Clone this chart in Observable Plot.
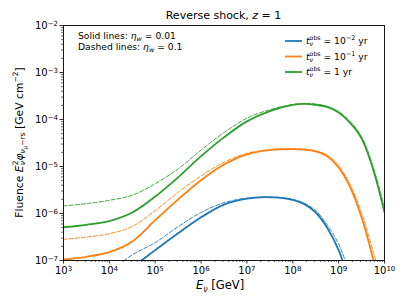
<!DOCTYPE html>
<html><head><meta charset="utf-8">
<script src="https://cdn.jsdelivr.net/npm/d3@7"></script>
<script src="https://cdn.jsdelivr.net/npm/@observablehq/plot@0.6"></script>
<style>body{margin:0;background:#fff}svg{display:block}</style>
</head><body><div id="chart"></div>
<script>
// ---- data (E in GeV, fluence in GeV cm^-2) ----
const seriesNames = ["1e-2 yr", "1e-1 yr", "1 yr"];
const seriesColors = ["#1f77b4", "#ff7f0e", "#2ca02c"];

const greenSolidE = [1e3, 3.16e3, 1e4, 3.16e4, 1e5, 3.16e5, 1e6, 3.16e6, 1e7, 3.16e7, 1e8, 1.78e8, 3.16e8, 5.62e8, 1e9, 1.78e9, 3.16e9, 5.62e9, 1e10];
const greenSolidF = [5.1e-7, 5.75e-7, 6.9e-7, 1.05e-6, 2.29e-6, 5.89e-6, 1.66e-5, 4.17e-5, 9.12e-5, 1.51e-4, 2.04e-4, 2.14e-4, 2.04e-4, 1.86e-4, 1.41e-4, 8.5e-5, 3.98e-5, 8.9e-6, 1.05e-6];
const greenDashE = [1e3, 3.16e3, 1e4, 3.16e4, 1e5, 3.16e5, 1e6, 3.16e6, 1e7, 3.16e7, 1e8, 1.78e8, 3.16e8, 5.62e8, 1e9, 1.78e9, 3.16e9, 5.62e9, 1e10];
const greenDashF = [1.45e-6, 1.62e-6, 1.91e-6, 2.45e-6, 4.3e-6, 8.9e-6, 2.24e-5, 5.25e-5, 1.07e-4, 1.62e-4, 2.09e-4, 2.19e-4, 2.14e-4, 1.91e-4, 1.48e-4, 9.1e-5, 4.37e-5, 1.0e-5, 1.32e-6];

const orangeSolidE = [1e3, 3.16e3, 1e4, 3.16e4, 1e5, 3.16e5, 1e6, 3.16e6, 1e7, 3.16e7, 1e8, 1.78e8, 3.16e8, 5.62e8, 1e9, 1.78e9, 3.16e9, 5.62e9, 8e9];
const orangeSolidF = [1.05e-7, 1.2e-7, 1.51e-7, 2.55e-7, 7.2e-7, 2.0e-6, 5.1e-6, 1.1e-5, 1.82e-5, 2.24e-5, 2.34e-5, 2.29e-5, 2.09e-5, 1.66e-5, 9.5e-6, 3.63e-6, 8.3e-7, 1.1e-7, 2.5e-8];
const orangeDashE = [1e3, 3.16e3, 1e4, 3.16e4, 1e5, 3.16e5, 1e6, 3.16e6, 1e7, 3.16e7, 1e8, 1.78e8, 3.16e8, 5.62e8, 1e9, 1.78e9, 3.16e9, 5.62e9, 8e9];
const orangeDashF = [2.82e-7, 3.16e-7, 3.72e-7, 5.3e-7, 1.15e-6, 2.82e-6, 6.3e-6, 1.23e-5, 1.91e-5, 2.29e-5, 2.4e-5, 2.34e-5, 2.14e-5, 1.74e-5, 1.05e-5, 4.17e-6, 1.05e-6, 1.6e-7, 5e-8];

const blueSolidE = [3.16e4, 1e5, 3.16e5, 1e6, 3.16e6, 1e7, 2.5e7, 5.62e7, 1e8, 1.78e8, 3.16e8, 5.62e8, 1e9, 1.78e9];
const blueSolidF = [7.1e-8, 1.66e-7, 3.8e-7, 8.3e-7, 1.55e-6, 2.07e-6, 2.24e-6, 2.14e-6, 1.95e-6, 1.58e-6, 1.05e-6, 5.0e-7, 1.66e-7, 3.2e-8];
const blueDashE = [1e4, 3.16e4, 1e5, 3.16e5, 1e6, 3.16e6, 1e7, 2.5e7, 5.62e7, 1e8, 1.78e8, 3.16e8, 5.62e8, 1e9, 1.78e9];
const blueDashF = [5.6e-8, 1.32e-7, 2.4e-7, 5.25e-7, 1.05e-6, 1.7e-6, 2.12e-6, 2.24e-6, 2.19e-6, 2.0e-6, 1.66e-6, 1.15e-6, 5.75e-7, 2.24e-7, 5e-8];

const xMajor = [1e3, 1e4, 1e5, 1e6, 1e7, 1e8, 1e9, 1e10];
const yMajor = [1e-7, 1e-6, 1e-5, 1e-4, 1e-3, 1e-2];
const xMinor = d3.range(3, 10).flatMap(p => d3.range(2, 10).map(k => k * 10 ** p));
const yMinor = d3.range(-7, -2).flatMap(p => d3.range(2, 10).map(k => k * 10 ** p));

// ---- assemble rows ----
const rows = [];
function add(E, F, series, style) { E.forEach((e, i) => rows.push({E: e, F: F[i], series, style})); }
add(blueSolidE, blueSolidF, seriesNames[0], "solid");
add(orangeSolidE, orangeSolidF, seriesNames[1], "solid");
add(greenSolidE, greenSolidF, seriesNames[2], "solid");
add(blueDashE, blueDashF, seriesNames[0], "dashed");
add(orangeDashE, orangeDashF, seriesNames[1], "dashed");
add(greenDashE, greenDashF, seriesNames[2], "dashed");

const powFmt = d => "10^" + String(Math.round(Math.log10(d))).replace("-", "\u2212");

const chart = Plot.plot({
  width: 407, height: 305,
  marginLeft: 63, marginRight: 23, marginTop: 25, marginBottom: 45,
  style: {fontFamily: "DejaVu Sans", fontSize: "10px", background: "#fff", color: "#000"},
  x: {type: "log", domain: [1e3, 1e10]},
  y: {type: "log", domain: [1e-7, 1e-2]},
  color: {domain: seriesNames, range: seriesColors},
  marks: [
    Plot.line(rows.filter(d => d.style === "solid"), {x: "E", y: "F", z: "series", stroke: "series", strokeWidth: 1.8, curve: "catmull-rom", clip: true}),
    Plot.line(rows.filter(d => d.style === "dashed"), {x: "E", y: "F", z: "series", stroke: "series", strokeWidth: 0.9, strokeDasharray: "4,2", curve: "catmull-rom", clip: true}),
    Plot.frame({stroke: "#000", strokeWidth: 0.9}),
    Plot.axisX({ticks: xMajor, tickFormat: powFmt, tickSize: 3.5, tickPadding: 3, label: null, strokeWidth: 0.8}),
    Plot.axisX({ticks: xMinor, tickFormat: () => "", tickSize: 2, label: null, strokeWidth: 0.6}),
    Plot.axisY({ticks: yMajor, tickFormat: powFmt, tickSize: 3.5, tickPadding: 2, label: null, strokeWidth: 0.8}),
    Plot.axisY({ticks: yMinor, tickFormat: () => "", tickSize: 2, label: null, strokeWidth: 0.6})
  ]
});
document.getElementById("chart").appendChild(chart);

// superscript tick labels
chart.querySelectorAll('g[aria-label="x-axis tick label"] text, g[aria-label="y-axis tick label"] text').forEach(el => {
  const s = el.textContent;
  if (!s.includes("^")) return;
  const [base, exp] = s.split("^");
  el.textContent = "";
  const ns = "http://www.w3.org/2000/svg";
  const t1 = document.createElementNS(ns, "tspan"); t1.textContent = base; el.appendChild(t1);
  const t2 = document.createElementNS(ns, "tspan"); t2.textContent = exp;
  t2.setAttribute("dy", "-0.45em"); t2.setAttribute("font-size", "7px"); el.appendChild(t2);
});

const svg = d3.select(chart);
function rich(runs, {x, y, anchor = "start", rotate = 0, size = 10}) {
  const g = svg.append("g").attr("transform", `translate(${x},${y}) rotate(${rotate})`).attr("text-anchor", "start");
  const inner = g.append("g");
  let cx = 0, stackW = null;
  for (const r of runs) {
    const t = inner.append("text").attr("x", cx).attr("y", r.dy || 0).attr("text-anchor", "start")
      .attr("font-size", r.size || size).attr("font-family", "DejaVu Sans").attr("fill", "#000").text(r.t);
    if (r.italic) t.attr("font-style", "italic");
    const w = t.node().getComputedTextLength();
    if (r.stack) { stackW = Math.max(stackW || 0, w); continue; }
    if (stackW != null) { cx += Math.max(stackW, w); stackW = null; } else cx += w;
  }
  if (anchor === "middle") inner.attr("transform", `translate(${-cx / 2},0)`);
  if (anchor === "end") inner.attr("transform", `translate(${-cx},0)`);
}

// title
rich([{t: "Reverse shock,\u00a0"}, {t: "z", italic: true}, {t: "\u00a0=\u00a01"}], {x: 223.5, y: 18.5, anchor: "middle", size: 11});
// x label
rich([{t: "E", italic: true}, {t: "\u03bd", italic: true, size: 8, dy: 2.5}, {t: "\u00a0[GeV]"}], {x: 220, y: 289, anchor: "middle", size: 11.5});
// y label
rich([
  {t: "Fluence\u00a0"}, {t: "E", italic: true},
  {t: "2", size: 7.5, dy: -4.5, stack: true}, {t: "\u03bd", italic: true, size: 7.5, dy: 2.5},
  {t: "\u03c6", italic: true},
  {t: "\u03bd", italic: true, size: 7.5, dy: 2.5}, {t: "\u03bc", italic: true, size: 5.5, dy: 4.5}, {t: "\u2212rs", size: 7.5, dy: 2.5},
  {t: "\u00a0[GeV\u00a0cm"}, {t: "\u22122", size: 7.5, dy: -4.5}, {t: "]"}
], {x: 22.5, y: 142.5, anchor: "middle", rotate: -90, size: 10.8});

// annotation
rich([{t: "Solid lines:\u00a0"}, {t: "\u03b7", italic: true}, {t: "w", italic: true, size: 6.5, dy: 2}, {t: "\u00a0=\u00a00.01"}], {x: 78, y: 38.5, size: 9.2});
rich([{t: "Dashed lines:\u00a0"}, {t: "\u03b7", italic: true}, {t: "w", italic: true, size: 6.5, dy: 2}, {t: "\u00a0=\u00a00.1"}], {x: 78, y: 49.5, size: 9.2});

// legend
const legendExp = [[{t: "10"}, {t: "\u22122", size: 6.5, dy: -3.8}], [{t: "10"}, {t: "\u22121", size: 6.5, dy: -3.8}], [{t: "1"}]];
const legendY = [41, 56.5, 72];
seriesNames.forEach((s, i) => {
  svg.append("line").attr("x1", 285).attr("x2", 302).attr("y1", legendY[i]).attr("y2", legendY[i])
    .attr("stroke", seriesColors[i]).attr("stroke-width", 1.8);
  rich([
    {t: "t", italic: true},
    {t: "obs", size: 6.2, dy: -3.8, stack: true}, {t: "\u03bd", italic: true, size: 6.2, dy: 2},
    {t: "\u00a0=\u00a0"}, ...legendExp[i], {t: "\u00a0yr"}
  ], {x: 306, y: legendY[i] + 3.2, size: 9.2});
});
</script></body></html>
